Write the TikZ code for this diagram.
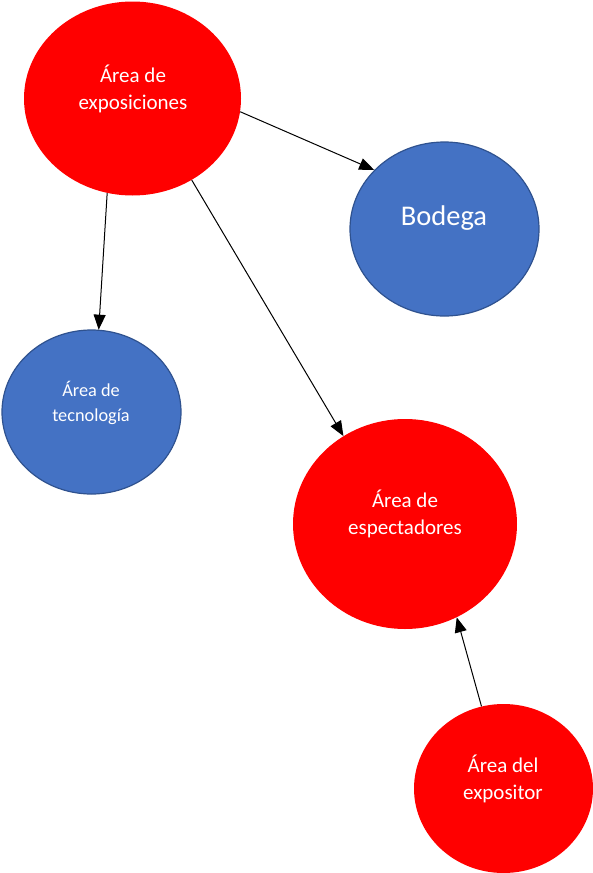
\documentclass[tikz,border=0pt]{standalone}
\usepackage{fontspec}
\setmainfont{Carlito}
\usetikzlibrary{shapes.geometric,arrows.meta}
\definecolor{zonered}{HTML}{FF0000}
\definecolor{zoneblue}{HTML}{4472C4}
\definecolor{zoneedge}{HTML}{2F528F}
\tikzset{
	redzone/.style={ellipse,fill=zonered,inner sep=0pt},
	bluezone/.style={ellipse,fill=zoneblue,draw=zoneedge,line width=1.2pt,inner sep=0pt},
	zonetext/.style={text=white,align=center,font=\fontsize{21}{27}\selectfont},
	link/.style={line width=1pt,-{Triangle[length=15pt,width=12pt]}}
}
\begin{document}
\begin{tikzpicture}[x=1pt,y=-1pt]
		\useasboundingbox (0,0) rectangle (593,873);
		\node [redzone, minimum width=217, minimum height=194] (expo) at (132.5,98.5) {};
		\node [bluezone, minimum width=189, minimum height=174] (bodega) at (444.5,229) {};
		\node [bluezone, minimum width=179, minimum height=164] (tecno) at (91.5,412) {};
		\node [redzone, minimum width=224, minimum height=210] (espect) at (405,524) {};
		\node [redzone, minimum width=179, minimum height=169] (expos) at (503.5,788.5) {};
		\node [zonetext] (expo-txt) at (133,89) {Área de\\exposiciones};
		\node [zonetext, font=\fontsize{28.5}{34}\selectfont] (bodega-txt) at (444,218) {Bodega};
		\node [zonetext, font=\fontsize{18.3}{25}\selectfont] (tecno-txt) at (91,402.5) {Área de\\tecnología};
		\node [zonetext] (espect-txt) at (405,514) {Área de\\espectadores};
		\node [zonetext] (expos-txt) at (503,779) {Área del\\expositor};
		\draw [link] (expo.-7.2) to (bodega.140);
		\draw [link] (expo.-105) to (tecno.85.6);
		\draw [link] (expo.-54) to (espect.125.5);
		\draw [link] (expos.105.7) to (espect.-61);
	\end{tikzpicture}
\end{document}
